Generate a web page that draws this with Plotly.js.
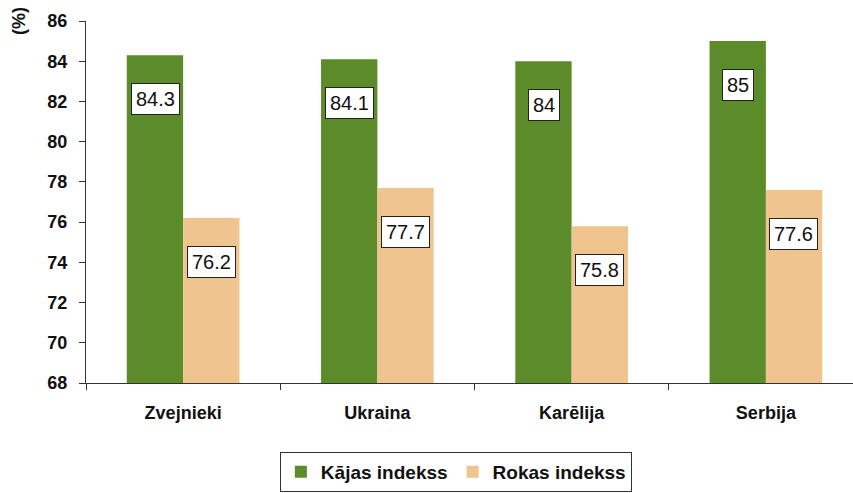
<!DOCTYPE html>
<html><head><meta charset="utf-8">
<script src="https://cdn.plot.ly/plotly-3.0.1.min.js"></script>
<style>html,body{margin:0;padding:0;overflow:hidden;background:#fff}#c{width:863px;height:493px}</style>
</head><body><div id="c"></div>
<script>
const categories = ["Zvejnieki", "Ukraina", "Karēlija", "Serbija"];
const kajas = [84.3, 84.1, 84, 85];
const rokas = [76.2, 77.7, 75.8, 77.6];
const seriesNames = ["Kājas indekss", "Rokas indekss"];
const colors = ["#5c8c2a", "#f0c48e"];
const yTicks = [68, 70, 72, 74, 76, 78, 80, 82, 84, 86];

const FONT = "Arial, Liberation Sans, sans-serif";
const traces = [
  {type: "bar", x: categories, y: kajas, name: seriesNames[0], marker: {color: colors[0]}, hoverinfo: "none"},
  {type: "bar", x: categories, y: rokas, name: seriesNames[1], marker: {color: colors[1]}, hoverinfo: "none"}
];

const annotations = [];
[kajas, rokas].forEach((arr, si) => {
  arr.forEach((v, i) => {
    annotations.push({
      x: categories[i], y: v, xref: "x", yref: "y",
      text: String(v), showarrow: false,
      xshift: si === 0 ? -28 : 28, yshift: -44,
      font: {family: FONT, size: 20, color: "#111"},
      bgcolor: "#fff", bordercolor: "#222", borderwidth: 1, borderpad: 4
    });
  });
});
annotations.push({
  xref: "paper", yref: "paper", x: -0.087, y: 1.045, xanchor: "center", yanchor: "top",
  text: "(%)", textangle: -90, showarrow: false,
  font: {family: FONT, size: 18, color: "#111", weight: "bold"}
});

const layout = {
  width: 863, height: 493,
  margin: {l: 86, r: 0, t: 21, b: 110},
  paper_bgcolor: "#fff", plot_bgcolor: "#fff",
  barmode: "group", bargap: 0.42, bargroupgap: 0,
  font: {family: FONT, color: "#111"},
  xaxis: {
    type: "category", showgrid: false, showline: true, linecolor: "#333", linewidth: 1,
    ticks: "outside", tickson: "boundaries", ticklen: 6, tickcolor: "#333",
    ticklabelstandoff: 13,
    tickfont: {size: 18, weight: "bold", family: FONT, color: "#111"}
  },
  yaxis: {
    range: [68, 86], showgrid: false, zeroline: false, showline: true, linecolor: "#333", linewidth: 1,
    tickmode: "array", tickvals: yTicks,
    ticks: "outside", ticklen: 6, tickcolor: "#333", ticklabelstandoff: 8,
    tickfont: {size: 18, weight: "bold", family: FONT, color: "#111"}
  },
  showlegend: true,
  legend: {
    orientation: "h", x: 0.476, xanchor: "center", y: -0.19, yanchor: "top",
    bordercolor: "#333", borderwidth: 1, bgcolor: "#fff",
    font: {size: 19, weight: "bold", family: FONT, color: "#111"},
    itemwidth: 30, tracegroupgap: 0
  },
  annotations: annotations
};
Plotly.newPlot("c", traces, layout, {displayModeBar: false, staticPlot: true});
</script></body></html>
